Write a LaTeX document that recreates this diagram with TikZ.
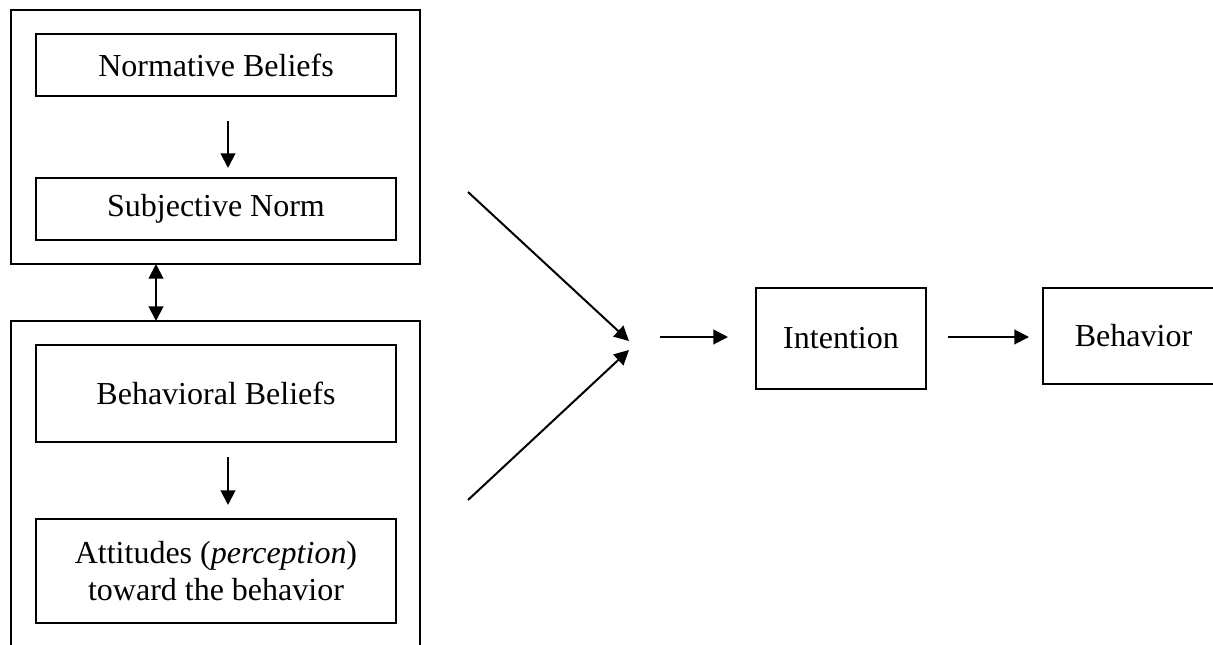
\documentclass[tikz,border=0pt]{standalone}
\usepackage{fontspec}
\setmainfont{Liberation Serif}
\usetikzlibrary{arrows.meta}
\begin{document}
\begin{tikzpicture}[x=0.75pt,y=-0.75pt,
  outerbox/.style={draw,line width=1.5pt,inner sep=0pt},
  innerbox/.style={draw,line width=1.2pt,inner sep=0pt,font=\fontsize{24}{28}\selectfont,align=center},
  conn/.style={line width=1.5pt,-{Triangle[length=11pt,width=11pt]}},
  dconn/.style={line width=1.5pt,{Triangle[length=11pt,width=11pt]}-{Triangle[length=11pt,width=11pt]}}]
\clip (0,0) rectangle (1213,645);
\fill[white] (0,0) rectangle (1213,645);
% outer groups
\node[outerbox,minimum width=306.75pt,minimum height=190.5pt] (outerTop) at (215.5,137) {};
\node[outerbox,minimum width=306.75pt,minimum height=284.25pt] (outerBot) at (215.5,510.5) {};
% inner boxes
\node[innerbox,minimum width=270pt,minimum height=46.5pt] (NB) at (216,65) {Normative Beliefs};
\node[innerbox,minimum width=270pt,minimum height=46.5pt] (SN) at (216,209) {Subjective Norm};
\node[innerbox,minimum width=270pt,minimum height=72.75pt] (BB) at (216,393.5) {Behavioral Beliefs};
\node[innerbox,minimum width=270pt,minimum height=78pt] (AT) at (216,571) {Attitudes (\textit{perception})\\toward the behavior};
\node[innerbox,minimum width=127.5pt,minimum height=75.75pt] (INT) at (841,338.5) {Intention};
\node[innerbox,minimum width=135.75pt,minimum height=72pt] (BEH) at (1133.5,336) {Behavior};
% connector end points
\coordinate (a1s) at (228,121); \coordinate (a1e) at (228,168);
\coordinate (a2s) at (228,457); \coordinate (a2e) at (228,505);
\coordinate (dtop) at (156,264); \coordinate (dbot) at (156,321);
\coordinate (u1) at (468,192); \coordinate (u2) at (629,341);
\coordinate (l1) at (468,500); \coordinate (l2) at (629,350);
\coordinate (m1) at (660,337); \coordinate (m2) at (728,337);
\coordinate (i1) at (948,337); \coordinate (i2) at (1029,337);
% connectors
\draw[conn] (a1s) -- (a1e);
\draw[conn] (a2s) -- (a2e);
\draw[dconn] (dtop) -- (dbot);
\draw[conn] (u1) -- (u2);
\draw[conn] (l1) -- (l2);
\draw[conn] (m1) -- (m2);
\draw[conn] (i1) -- (i2);
\end{tikzpicture}
\end{document}
